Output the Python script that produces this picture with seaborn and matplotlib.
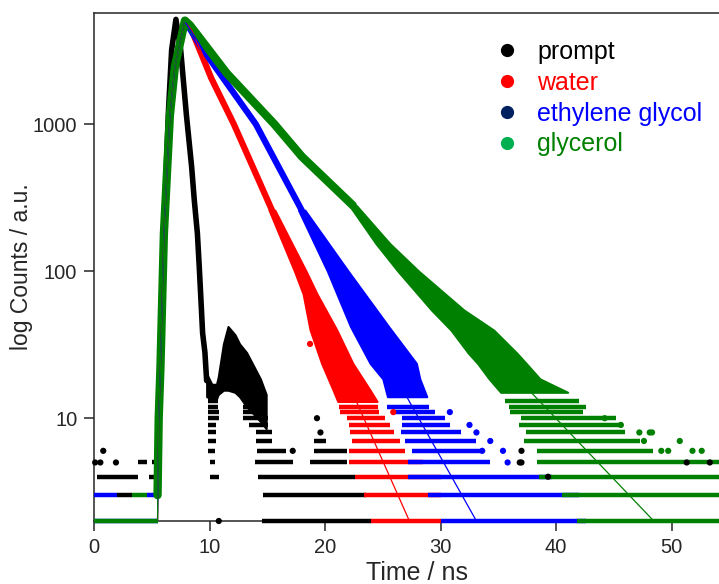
import matplotlib
matplotlib.use("Agg")
import matplotlib.pyplot as plt
from matplotlib.lines import Line2D
from matplotlib.ticker import FixedLocator, FixedFormatter, NullLocator
import seaborn as sns

sns.set_style("ticks")
plt.rcParams['font.family'] = ['Liberation Sans', 'DejaVu Sans']

# ---- data (time in ns, counts) ----
labels = ["prompt", "water", "ethylene glycol", "glycerol"]
point_colors = ["black", "#ff0000", "#0000ff", "#008000"]
legend_marker_colors = ["black", "#ff0000", "#002060", "#00b050"]
legend_text_colors = ["black", "#ff0000", "#0000ff", "#008000"]

# dense part of each decay
prompt_t = [5.45, 5.6, 5.75, 6.0, 6.45, 6.72, 7.09, 7.5, 8.0, 8.45, 8.68, 8.95, 9.11, 9.26, 9.4, 9.6, 9.75]
prompt_c = [3, 10, 25, 150, 1250, 3190, 5150, 3200, 1150, 513, 304, 180, 107, 63, 38, 28, 18]
water_t = [5.5, 5.6, 5.75, 6.05, 6.57, 7.0, 7.85, 8.45, 10.15, 12.1, 15.4]
water_c = [3, 10, 22, 180, 1150, 2450, 5000, 4350, 2050, 1000, 260]
eg_t = [5.5, 5.6, 5.75, 6.05, 6.57, 7.0, 7.85, 9.45, 14.0, 17.97]
eg_c = [3, 10, 22, 180, 1150, 2450, 5050, 3190, 1000, 260]
gly_t = [5.5, 5.6, 5.75, 6.05, 6.57, 7.0, 7.87, 8.3, 11.5, 15.6, 18.0, 22.4]
gly_c = [3, 10, 22, 180, 1150, 2450, 5050, 4700, 2210, 1000, 600, 280]

# prompt after-pulse cloud (time, lower / upper count)
prompt_band_t = [9.75, 10.2, 10.6, 10.75, 11.2, 11.6, 12.2, 12.6, 13.2, 13.9, 14.4, 14.9]
prompt_band_lo = [14, 13.5, 13.5, 14.5, 15.5, 15.5, 15, 14, 12, 10.5, 9.5, 8.5]
prompt_band_hi = [20, 17, 17, 19, 32, 42, 37, 32, 28, 22, 18.5, 14.5]

# noisy low-count clouds: count level, left and right time edge
water_cloud_c = [260, 100, 70, 40, 23.6, 15.5, 13]
water_cloud_l = [15.15, 17.35, 18.1, 18.7, 19.7, 20.7, 21.1]
water_cloud_r = [15.65, 18.35, 19.3, 21.0, 22.4, 23.9, 24.5]
eg_cloud_c = [260, 100, 42, 23.6, 18.5, 14]
eg_cloud_l = [17.7, 20.2, 22.2, 23.9, 25.0, 25.4]
eg_cloud_r = [18.25, 22.0, 25.5, 27.9, 28.2, 28.8]
gly_cloud_c = [280, 154, 100, 54.5, 39.7, 27.7, 23.6, 18.5, 15]
gly_cloud_l = [22.1, 24.4, 26.3, 29.2, 30.9, 32.4, 33.2, 34.2, 35.2]
gly_cloud_r = [22.7, 25.6, 28.1, 32.0, 34.6, 36.6, 37.4, 38.6, 41.0]

# quantised count rows: (count, start ns, end ns)
prompt_rows = [(5, 3.8, 4.6), (5, 5.0, 5.5), (4, 0.25, 3.8), (4, 4.8, 5.5), (3, 2.0, 3.3),
               (13, 9.9, 10.7), (12, 9.9, 10.7), (11, 9.9, 10.8), (10, 9.9, 10.8), (9, 9.9, 10.6),
               (8, 9.9, 10.6), (7, 9.9, 10.6), (6, 9.9, 10.5), (5, 10.0, 10.5), (4, 10.0, 10.8),
               (12, 12.9, 14.6), (11, 12.9, 15.0), (10, 12.9, 15.1), (9, 13.4, 15.1), (8, 14.0, 15.4),
               (7, 14.0, 15.4), (7, 19.0, 20.1), (6, 14.1, 16.6), (6, 19.0, 21.9), (5, 13.9, 17.2),
               (5, 18.7, 21.9), (4, 14.2, 22.6), (3, 14.6, 23.5), (2, 14.5, 24.0)]
water_rows = [(12, 21.2, 24.6), (11, 21.3, 24.7), (10, 21.9, 25.2), (9, 22.1, 25.6), (8, 22.2, 26.0),
              (7, 22.3, 26.5), (6, 22.1, 26.9), (5, 22.1, 28.5), (4, 22.6, 30.0), (3, 23.4, 30.0),
              (2, 24.0, 30.0)]
eg_rows = [(3, 0.0, 2.0), (3, 4.6, 5.5), (2, 0.0, 5.5),
           (12, 25.4, 29.0), (11, 26.0, 29.5), (10, 26.7, 30.4), (9, 26.7, 30.8), (8, 26.6, 31.8),
           (7, 26.9, 33.1), (6, 27.5, 33.6), (5, 27.2, 34.3), (4, 27.2, 39.6), (3, 28.9, 42.0),
           (2, 30.0, 42.6)]
gly_rows = [(3, 3.3, 4.6), (2, 0.0, 5.5),
            (13, 35.6, 42.0), (12, 35.9, 42.6), (11, 36.0, 42.3), (10, 37.0, 45.2), (9, 36.8, 45.8),
            (8, 37.4, 46.0), (7, 37.2, 47.3), (6, 38.3, 48.4), (5, 38.3, 54.5), (4, 38.5, 54.5),
            (3, 40.5, 54.5), (2, 41.8, 54.5)]

# isolated points
prompt_dots_t = [0.8, 0.1, 0.55, 1.9, 17.2, 19.3, 19.6, 10.8, 37.0, 37.0, 36.85, 39.3, 51.3, 53.3]
prompt_dots_c = [6, 5, 5, 5, 6, 10, 8, 2, 6, 5, 5, 4, 5, 5]
water_dots_t = [18.7, 25.9]
water_dots_c = [32, 11]
eg_dots_t = [34.3, 33.6, 35.4, 35.8, 33.1, 32.5, 30.8]
eg_dots_c = [7, 6, 6, 5, 8, 9, 11]
gly_dots_t = [47.2, 48.1, 47.6, 50.7, 49.1, 49.7, 51.8, 52.6, 44.2, 45.6, 48.3]
gly_dots_c = [8, 8, 7, 7, 6, 6, 6, 6, 10, 9, 8]

# fitted curves
water_fit_t = [5.5, 5.6, 5.75, 6.05, 6.57, 7.0, 7.85, 8.45, 27.3]
water_fit_c = [2, 10, 22, 180, 1150, 2450, 5000, 4350, 2]
eg_fit_t = [5.5, 5.6, 5.75, 6.05, 6.57, 7.0, 7.85, 9.45, 14.0, 18.0, 33.1]
eg_fit_c = [2, 10, 22, 180, 1150, 2450, 5000, 3190, 1000, 260, 2]
gly_fit_t = [5.5, 5.6, 5.75, 6.05, 6.57, 7.0, 7.87, 8.3, 11.5, 15.6, 22.4, 48.45]
gly_fit_c = [2, 10, 22, 180, 1150, 2450, 5050, 4700, 2210, 1000, 280, 2]

fig = plt.figure(figsize=(7.19, 5.84), dpi=100)
ax = fig.add_axes([94 / 719, 63 / 584, 647 / 719, 508 / 584])
ax.set_yscale('log')

series = [
    (prompt_t, prompt_c, None, prompt_rows, 4.0),
    (water_t, water_c, (water_cloud_c, water_cloud_l, water_cloud_r), water_rows, 4.5),
    (eg_t, eg_c, (eg_cloud_c, eg_cloud_l, eg_cloud_r), eg_rows, 4.5),
    (gly_t, gly_c, (gly_cloud_c, gly_cloud_l, gly_cloud_r), gly_rows, 6.0),
]
for i, (t, c, cloud, rows, lw) in enumerate(series):
    col = point_colors[i]
    z = 3 + i * 0.1
    sns.lineplot(x=t, y=c, sort=False, estimator=None, color=col, linewidth=lw,
                 solid_capstyle='round', solid_joinstyle='round', zorder=z, ax=ax)
    if cloud is None:
        ax.fill_between(prompt_band_t, prompt_band_lo, prompt_band_hi, color=col, lw=1.5, zorder=z)
    else:
        ax.fill_betweenx(cloud[0], cloud[1], cloud[2], color=col, lw=1.5, zorder=z)
    ax.hlines([r[0] for r in rows], [r[1] for r in rows], [r[2] for r in rows],
              colors=col, lw=3.2, zorder=z, clip_on=False)

dots = [(prompt_dots_t, prompt_dots_c), (water_dots_t, water_dots_c),
        (eg_dots_t, eg_dots_c), (gly_dots_t, gly_dots_c)]
for i, (t, c) in enumerate(dots):
    sns.scatterplot(x=t, y=c, color=point_colors[i], s=20, edgecolor='none',
                    zorder=3.8, clip_on=False, ax=ax)

fits = [(water_fit_t, water_fit_c), (eg_fit_t, eg_fit_c), (gly_fit_t, gly_fit_c)]
for i, (t, c) in enumerate(fits):
    sns.lineplot(x=t, y=c, sort=False, estimator=None, color=point_colors[i + 1],
                 linewidth=0.9, zorder=4, ax=ax)

ax.set_xlim(0, 56)
ax.set_ylim(2, 5690)
ax.set_xticks([0, 10, 20, 30, 40, 50])
ax.yaxis.set_major_locator(FixedLocator([10, 100, 1000]))
ax.yaxis.set_major_formatter(FixedFormatter(["10", "100", "1000"]))
ax.yaxis.set_minor_locator(NullLocator())
ax.tick_params(direction='out', length=7, width=1.1, labelsize=14.5, pad=5)
for s in ['left', 'bottom', 'top']:
    ax.spines[s].set_linewidth(1.1)
ax.spines['right'].set_visible(False)
ax.set_xlabel("Time / ns", fontsize=18, labelpad=3)
ax.set_ylabel("log Counts / a.u.", fontsize=16.5)
ax.yaxis.set_label_coords(-0.094, 0.5)

handles = [Line2D([], [], ls='', marker='o', ms=8.5, mfc=c, mec=c) for c in legend_marker_colors]
ax.legend(handles, labels, loc='upper left', bbox_to_anchor=(494.5 / 719, 1 - 40 / 584),
          bbox_transform=fig.transFigure, frameon=False, fontsize=18, handlelength=1.0,
          handletextpad=0.7, labelspacing=0.27, borderpad=0, borderaxespad=0,
          labelcolor=legend_text_colors)

fig.savefig("out.png", dpi=100)
